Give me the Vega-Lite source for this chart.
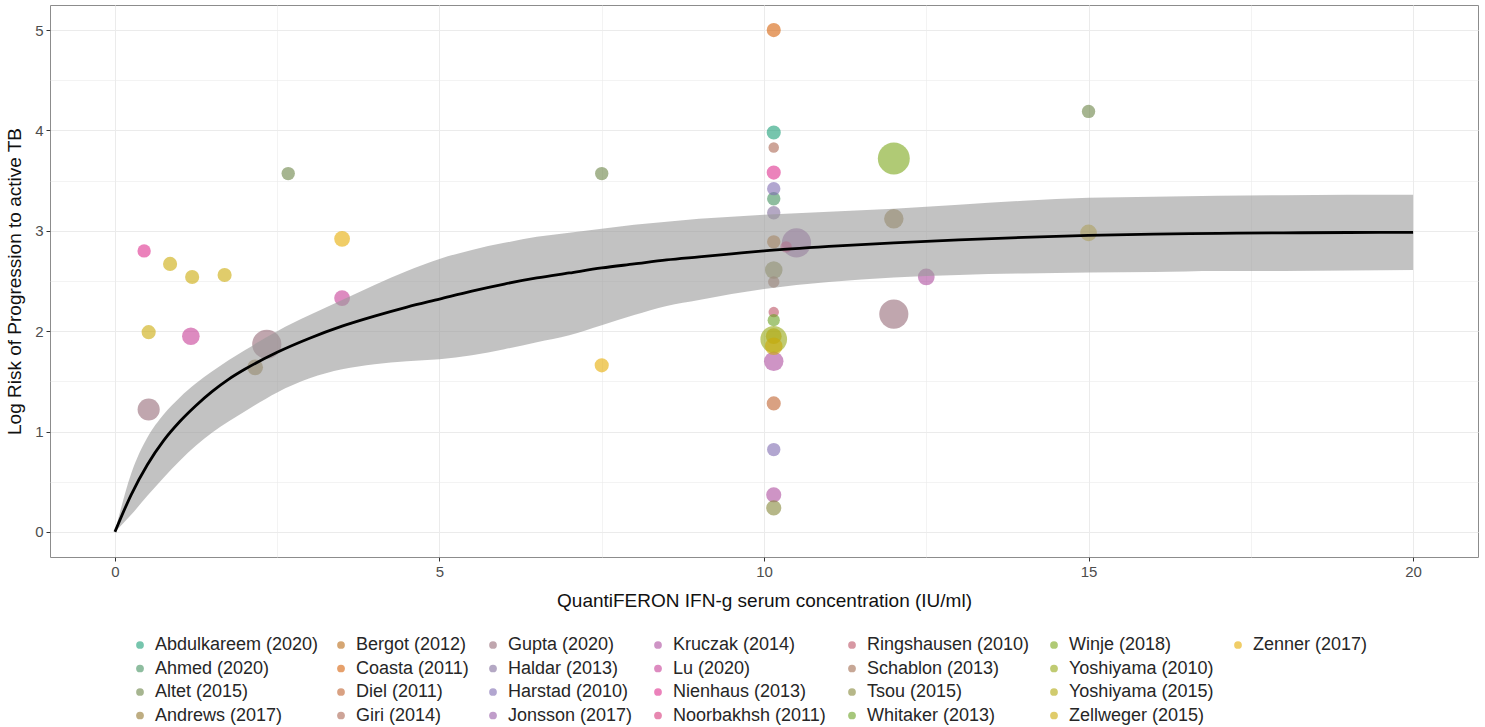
{
  "$schema": "https://vega.github.io/schema/vega-lite/v6.json",
  "autosize": "none",
  "width": 1428,
  "height": 552,
  "padding": {"left": 50, "top": 5, "right": 7, "bottom": 170},
  "background": "white",
  "config": {
    "font": "Liberation Sans",
    "view": {"stroke": "#8C8C8C", "strokeWidth": 1},
    "axis": {"gridColor": "#EBEBEB", "gridWidth": 1, "tickColor": "#333333", "tickSize": 4, "labelColor": "#4D4D4D", "labelFontSize": 15, "labelPadding": 3, "titleFontSize": 19, "titleColor": "#111111", "titleFontWeight": "normal", "domain": false},
    "legend": {"labelFontSize": 18, "labelColor": "#262626", "labelLimit": 300, "symbolType": "circle", "symbolSize": 60, "symbolOpacity": 0.6, "symbolStrokeWidth": 0, "rowPadding": 5.5, "labelOffset": 6, "padding": 0, "orient": "none", "direction": "vertical", "title": null}
  },
  "datasets": {
    "pts": [
      {"study": "Nienhaus (2013)", "x": 0.45, "y": 2.80, "weight": 1.8},
      {"study": "Zellweger (2015)", "x": 0.85, "y": 2.67, "weight": 2.0},
      {"study": "Zellweger (2015)", "x": 1.19, "y": 2.54, "weight": 2.0},
      {"study": "Zellweger (2015)", "x": 1.69, "y": 2.56, "weight": 2.0},
      {"study": "Zellweger (2015)", "x": 0.52, "y": 1.99, "weight": 2.0},
      {"study": "Lu (2020)", "x": 1.17, "y": 1.95, "weight": 3.1},
      {"study": "Gupta (2020)", "x": 2.34, "y": 1.87, "weight": 8.5},
      {"study": "Andrews (2017)", "x": 2.16, "y": 1.64, "weight": 2.5},
      {"study": "Gupta (2020)", "x": 0.52, "y": 1.22, "weight": 4.9},
      {"study": "Altet (2015)", "x": 2.67, "y": 3.57, "weight": 1.8},
      {"study": "Zenner (2017)", "x": 3.5, "y": 2.92, "weight": 2.5},
      {"study": "Lu (2020)", "x": 3.5, "y": 2.33, "weight": 2.5},
      {"study": "Altet (2015)", "x": 7.5, "y": 3.57, "weight": 1.8},
      {"study": "Zenner (2017)", "x": 7.5, "y": 1.66, "weight": 2.0},
      {"study": "Coasta (2011)", "x": 10.15, "y": 5.0, "weight": 2.0},
      {"study": "Abdulkareem (2020)", "x": 10.15, "y": 3.98, "weight": 2.0},
      {"study": "Giri (2014)", "x": 10.15, "y": 3.83, "weight": 1.1},
      {"study": "Nienhaus (2013)", "x": 10.15, "y": 3.58, "weight": 2.0},
      {"study": "Harstad (2010)", "x": 10.15, "y": 3.42, "weight": 1.8},
      {"study": "Ahmed (2020)", "x": 10.15, "y": 3.32, "weight": 1.8},
      {"study": "Haldar (2013)", "x": 10.15, "y": 3.18, "weight": 1.8},
      {"study": "Bergot (2012)", "x": 10.15, "y": 2.89, "weight": 1.8},
      {"study": "Tsou (2015)", "x": 10.15, "y": 2.61, "weight": 3.1},
      {"study": "Schablon (2013)", "x": 10.15, "y": 2.49, "weight": 1.3},
      {"study": "Ringshausen (2010)", "x": 10.15, "y": 2.19, "weight": 1.1},
      {"study": "Whitaker (2013)", "x": 10.15, "y": 2.11, "weight": 1.5},
      {"study": "Yoshiyama (2010)", "x": 10.15, "y": 1.92, "weight": 7.1},
      {"study": "Yoshiyama (2015)", "x": 10.15, "y": 1.95, "weight": 2.5},
      {"study": "Zellweger (2015)", "x": 10.15, "y": 1.85, "weight": 3.1},
      {"study": "Kruczak (2014)", "x": 10.15, "y": 1.70, "weight": 3.8},
      {"study": "Diel (2011)", "x": 10.15, "y": 1.28, "weight": 2.0},
      {"study": "Harstad (2010)", "x": 10.15, "y": 0.82, "weight": 1.8},
      {"study": "Kruczak (2014)", "x": 10.15, "y": 0.37, "weight": 2.3},
      {"study": "Tsou (2015)", "x": 10.15, "y": 0.24, "weight": 2.3},
      {"study": "Jonsson (2017)", "x": 10.5, "y": 2.88, "weight": 8.5},
      {"study": "Noorbakhsh (2011)", "x": 10.34, "y": 2.84, "weight": 1.3},
      {"study": "Winje (2018)", "x": 12.0, "y": 3.72, "weight": 10.2},
      {"study": "Andrews (2017)", "x": 12.0, "y": 3.12, "weight": 3.8},
      {"study": "Kruczak (2014)", "x": 12.5, "y": 2.54, "weight": 2.8},
      {"study": "Gupta (2020)", "x": 12.0, "y": 2.17, "weight": 8.5},
      {"study": "Altet (2015)", "x": 15.0, "y": 4.19, "weight": 1.8},
      {"study": "Zellweger (2015)", "x": 15.0, "y": 2.98, "weight": 2.8}
    ],
    "curve": [
      {"x": 0, "fit": 0, "lo": 0, "hi": 0},
      {"x": 0.25, "fit": 0.37, "lo": 0.17, "hi": 0.58},
      {"x": 0.5, "fit": 0.67, "lo": 0.36, "hi": 0.94},
      {"x": 0.75, "fit": 0.91, "lo": 0.54, "hi": 1.17},
      {"x": 1.0, "fit": 1.10, "lo": 0.71, "hi": 1.34},
      {"x": 1.25, "fit": 1.26, "lo": 0.86, "hi": 1.48},
      {"x": 1.5, "fit": 1.40, "lo": 0.99, "hi": 1.60},
      {"x": 1.75, "fit": 1.52, "lo": 1.10, "hi": 1.71},
      {"x": 2.0, "fit": 1.62, "lo": 1.20, "hi": 1.81},
      {"x": 2.5, "fit": 1.79, "lo": 1.39, "hi": 2.00},
      {"x": 3.0, "fit": 1.93, "lo": 1.53, "hi": 2.16},
      {"x": 3.5, "fit": 2.05, "lo": 1.62, "hi": 2.31},
      {"x": 4.0, "fit": 2.15, "lo": 1.67, "hi": 2.46},
      {"x": 4.5, "fit": 2.24, "lo": 1.70, "hi": 2.60},
      {"x": 5.0, "fit": 2.32, "lo": 1.72, "hi": 2.72},
      {"x": 5.5, "fit": 2.40, "lo": 1.76, "hi": 2.81},
      {"x": 6.0, "fit": 2.47, "lo": 1.82, "hi": 2.88},
      {"x": 6.5, "fit": 2.53, "lo": 1.89, "hi": 2.94},
      {"x": 7.0, "fit": 2.58, "lo": 1.96, "hi": 2.98},
      {"x": 7.5, "fit": 2.63, "lo": 2.06, "hi": 3.02},
      {"x": 8.0, "fit": 2.67, "lo": 2.16, "hi": 3.06},
      {"x": 8.5, "fit": 2.71, "lo": 2.25, "hi": 3.09},
      {"x": 9.0, "fit": 2.74, "lo": 2.31, "hi": 3.12},
      {"x": 9.5, "fit": 2.77, "lo": 2.37, "hi": 3.14},
      {"x": 10, "fit": 2.80, "lo": 2.42, "hi": 3.16},
      {"x": 11, "fit": 2.845, "lo": 2.49, "hi": 3.19},
      {"x": 12, "fit": 2.88, "lo": 2.535, "hi": 3.22},
      {"x": 13, "fit": 2.91, "lo": 2.56, "hi": 3.26},
      {"x": 14, "fit": 2.935, "lo": 2.575, "hi": 3.30},
      {"x": 15, "fit": 2.955, "lo": 2.585, "hi": 3.33},
      {"x": 16, "fit": 2.968, "lo": 2.59, "hi": 3.34},
      {"x": 17, "fit": 2.975, "lo": 2.60, "hi": 3.35},
      {"x": 18, "fit": 2.98, "lo": 2.60, "hi": 3.355},
      {"x": 19, "fit": 2.983, "lo": 2.605, "hi": 3.36},
      {"x": 20, "fit": 2.985, "lo": 2.61, "hi": 3.36}
    ]
  },
  "resolve": {"scale": {"color": "independent"}, "legend": {"color": "independent"}, "axis": {"x": "independent", "y": "independent"}},
  "layer": [
    {
      "data": {"name": "curve"},
      "mark": {"type": "rule", "opacity": 0},
      "encoding": {
        "x": {"field": "x", "type": "quantitative", "scale": {"domain": [-1, 21], "nice": false, "zero": false},
          "axis": {"orient": "bottom", "values": [2.5, 7.5, 12.5, 17.5], "grid": true, "gridWidth": 0.6, "labels": false, "ticks": false, "title": null}},
        "y": {"field": "fit", "type": "quantitative", "scale": {"domain": [-0.25, 5.25], "nice": false, "zero": false},
          "axis": {"orient": "left", "values": [0.5, 1.5, 2.5, 3.5, 4.5], "grid": true, "gridWidth": 0.6, "labels": false, "ticks": false, "title": null}}
      }
    },
    {
      "data": {"name": "pts"},
      "transform": [{"filter": {"field": "study", "oneOf": ["Abdulkareem (2020)", "Ahmed (2020)", "Altet (2015)", "Andrews (2017)"]}}],
      "mark": {"type": "circle", "opacity": 0.6},
      "encoding": {
        "x": {"field": "x", "type": "quantitative", "axis": null},
        "y": {"field": "y", "type": "quantitative", "axis": null},
        "size": {"field": "weight", "type": "quantitative", "scale": {"domain": [0, 10], "range": [0, 1000]}, "legend": null},
        "color": {"field": "study", "type": "nominal", "scale": {"domain": ["Abdulkareem (2020)", "Ahmed (2020)", "Altet (2015)", "Andrews (2017)"], "range": ["#1B9E77", "#43915F", "#6A8446", "#92772E"]}, "legend": {"legendX": 81, "legendY": 631}}
      }
    },
    {
      "data": {"name": "pts"},
      "transform": [{"filter": {"field": "study", "oneOf": ["Bergot (2012)", "Coasta (2011)", "Diel (2011)", "Giri (2014)"]}}],
      "mark": {"type": "circle", "opacity": 0.6},
      "encoding": {
        "x": {"field": "x", "type": "quantitative", "axis": null},
        "y": {"field": "y", "type": "quantitative", "axis": null},
        "size": {"field": "weight", "type": "quantitative", "scale": {"domain": [0, 10], "range": [0, 1000]}, "legend": null},
        "color": {"field": "study", "type": "nominal", "scale": {"domain": ["Bergot (2012)", "Coasta (2011)", "Diel (2011)", "Giri (2014)"], "range": ["#B96A16", "#D56009", "#C0632E", "#AB6753"]}, "legend": {"legendX": 282, "legendY": 631}}
      }
    },
    {
      "data": {"name": "pts"},
      "transform": [{"filter": {"field": "study", "oneOf": ["Gupta (2020)", "Haldar (2013)", "Harstad (2010)", "Jonsson (2017)"]}}],
      "mark": {"type": "circle", "opacity": 0.6},
      "encoding": {
        "x": {"field": "x", "type": "quantitative", "axis": null},
        "y": {"field": "y", "type": "quantitative", "axis": null},
        "size": {"field": "weight", "type": "quantitative", "scale": {"domain": [0, 10], "range": [0, 1000]}, "legend": null},
        "color": {"field": "study", "type": "nominal", "scale": {"domain": ["Gupta (2020)", "Haldar (2013)", "Harstad (2010)", "Jonsson (2017)"], "range": ["#966A78", "#826E9D", "#7F6AB0", "#965BA7"]}, "legend": {"legendX": 434, "legendY": 631}}
      }
    },
    {
      "data": {"name": "pts"},
      "transform": [{"filter": {"field": "study", "oneOf": ["Kruczak (2014)", "Lu (2020)", "Nienhaus (2013)", "Noorbakhsh (2011)"]}}],
      "mark": {"type": "circle", "opacity": 0.6},
      "encoding": {
        "x": {"field": "x", "type": "quantitative", "axis": null},
        "y": {"field": "y", "type": "quantitative", "axis": null},
        "size": {"field": "weight", "type": "quantitative", "scale": {"domain": [0, 10], "range": [0, 1000]}, "legend": null},
        "color": {"field": "study", "type": "nominal", "scale": {"domain": ["Kruczak (2014)", "Lu (2020)", "Nienhaus (2013)", "Noorbakhsh (2011)"], "range": ["#AE4D9F", "#C63E96", "#DE2F8D", "#D7397C"]}, "legend": {"legendX": 599, "legendY": 631}}
      }
    },
    {
      "data": {"name": "pts"},
      "transform": [{"filter": {"field": "study", "oneOf": ["Ringshausen (2010)", "Schablon (2013)", "Tsou (2015)", "Whitaker (2013)"]}}],
      "mark": {"type": "circle", "opacity": 0.6},
      "encoding": {
        "x": {"field": "x", "type": "quantitative", "axis": null},
        "y": {"field": "y", "type": "quantitative", "axis": null},
        "size": {"field": "weight", "type": "quantitative", "scale": {"domain": [0, 10], "range": [0, 1000]}, "legend": null},
        "color": {"field": "study", "type": "nominal", "scale": {"domain": ["Ringshausen (2010)", "Schablon (2013)", "Tsou (2015)", "Whitaker (2013)"], "range": ["#BC5366", "#A16D50", "#868739", "#6BA123"]}, "legend": {"legendX": 793, "legendY": 631}}
      }
    },
    {
      "data": {"name": "pts"},
      "transform": [{"filter": {"field": "study", "oneOf": ["Winje (2018)", "Yoshiyama (2010)", "Yoshiyama (2015)", "Zellweger (2015)"]}}],
      "mark": {"type": "circle", "opacity": 0.6},
      "encoding": {
        "x": {"field": "x", "type": "quantitative", "axis": null},
        "y": {"field": "y", "type": "quantitative", "axis": null},
        "size": {"field": "weight", "type": "quantitative", "scale": {"domain": [0, 10], "range": [0, 1000]}, "legend": null},
        "color": {"field": "study", "type": "nominal", "scale": {"domain": ["Winje (2018)", "Yoshiyama (2010)", "Yoshiyama (2015)", "Zellweger (2015)"], "range": ["#7BA719", "#96A814", "#B1A90E", "#CBAA08"]}, "legend": {"legendX": 995, "legendY": 631}}
      }
    },
    {
      "data": {"name": "pts"},
      "transform": [{"filter": {"field": "study", "oneOf": ["Zenner (2017)"]}}],
      "mark": {"type": "circle", "opacity": 0.6},
      "encoding": {
        "x": {"field": "x", "type": "quantitative", "axis": null},
        "y": {"field": "y", "type": "quantitative", "axis": null},
        "size": {"field": "weight", "type": "quantitative", "scale": {"domain": [0, 10], "range": [0, 1000]}, "legend": null},
        "color": {"field": "study", "type": "nominal", "scale": {"domain": ["Zenner (2017)"], "range": ["#E6AB02"]}, "legend": {"legendX": 1179, "legendY": 631}}
      }
    },
    {
      "data": {"name": "curve"},
      "mark": {"type": "area", "color": "#999999", "opacity": 0.6, "interpolate": "monotone"},
      "encoding": {
        "x": {"field": "x", "type": "quantitative", "axis": null},
        "y": {"field": "lo", "type": "quantitative", "axis": null},
        "y2": {"field": "hi"}
      }
    },
    {
      "data": {"name": "curve"},
      "mark": {"type": "line", "color": "#000000", "strokeWidth": 2.8, "interpolate": "monotone"},
      "encoding": {
        "x": {"field": "x", "type": "quantitative",
          "axis": {"orient": "bottom", "values": [0, 5, 10, 15, 20], "grid": true, "title": "QuantiFERON IFN-g serum concentration (IU/ml)", "titlePadding": 12}},
        "y": {"field": "fit", "type": "quantitative",
          "axis": {"orient": "left", "values": [0, 1, 2, 3, 4, 5], "grid": true, "title": "Log Risk of Progression to active TB", "titlePadding": 10}}
      }
    }
  ]
}
